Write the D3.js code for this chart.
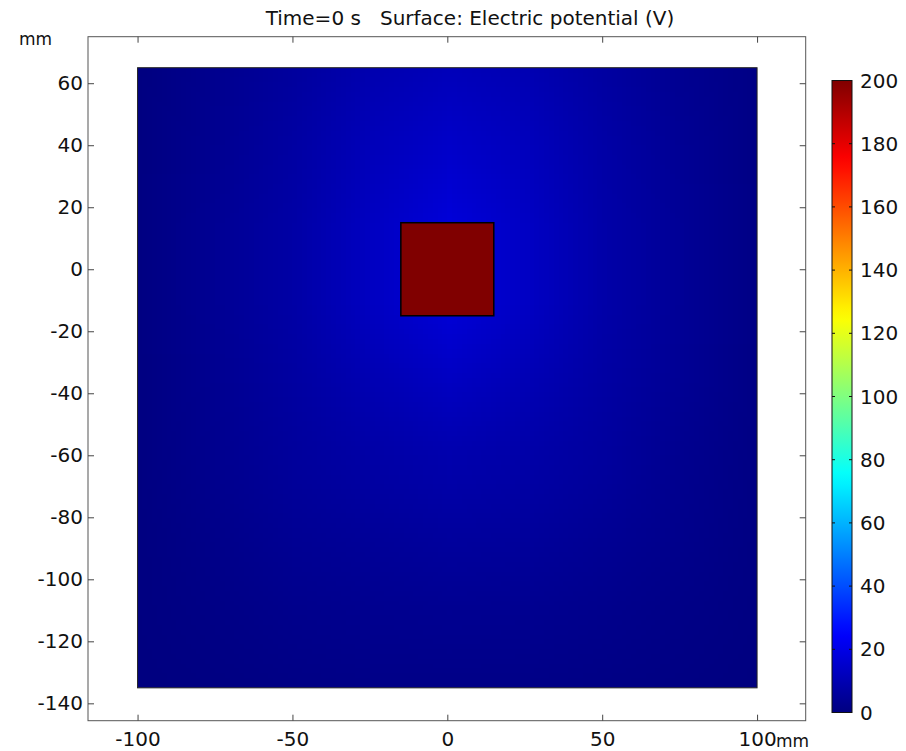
<!DOCTYPE html>
<html>
<head>
<meta charset="utf-8">
<script src="https://cdn.jsdelivr.net/npm/d3@7"></script>
<style>
  body { margin: 0; background: #fff; }
  text { font-family: "DejaVu Sans", sans-serif; fill: #111; }
</style>
</head>
<body>
<div id="chart"></div>
<script>
var xGrid = [-100, -75, -50, -25, 0, 25, 50, 75, 100];
var yGrid = [65, 40, 15, -10, -35, -60, -85, -110, -135];
var potential = [
  [0.3, 3, 6, 9.5, 11.5, 10, 6.5, 3.5, 1],
  [0.4, 3.5, 7, 11.5, 14.5, 12, 7.5, 4, 1],
  [0.5, 4, 7.5, 13, 17.5, 13.5, 8, 4.5, 1],
  [0.5, 4, 7.5, 13, 17.5, 13.5, 8, 4.5, 1],
  [0.5, 3.5, 6.5, 10, 13, 10.5, 7, 4, 1],
  [0.4, 3, 5.5, 7.5, 9, 8, 6, 3, 0.8],
  [0.3, 2, 4, 5, 6, 5.5, 4, 2.5, 0.6],
  [0.2, 1.2, 2.5, 3, 3.5, 3.2, 2.5, 1.5, 0.4],
  [0, 0.5, 1, 1.5, 1.5, 1.5, 1, 0.6, 0]
];
var domainBox = {x0: -100, x1: 100, y0: -135, y1: 65};
var electrode = {x0: -15, x1: 15, y0: -15, y1: 15, v: 200};
var xTicks = [-100, -50, 0, 50, 100];
var yTicks = [60, 40, 20, 0, -20, -40, -60, -80, -100, -120, -140];
var cbTicks = [0, 20, 40, 60, 80, 100, 120, 140, 160, 180, 200];
var vRange = [0, 200];

var W = 906, H = 751;
var svg = d3.select('#chart').append('svg')
    .attr('width', W).attr('height', H);
svg.append('rect').attr('width', W).attr('height', H).attr('fill', '#fff');

var x = d3.scaleLinear().domain([-116, 115.7]).range([88, 805.7]);
var y = d3.scaleLinear().domain([75, -145.6]).range([36.7, 720.7]);

// jet colormap
var clamp = v => Math.max(0, Math.min(1, v));
var jet = t => d3.rgb(
    255 * clamp(1.5 - Math.abs(4 * t - 3)),
    255 * clamp(1.5 - Math.abs(4 * t - 2)),
    255 * clamp(1.5 - Math.abs(4 * t - 1))) + '';
var tScale = d3.scaleLinear().domain(vRange).range([0, 1]).clamp(true);
var color = v => jet(tScale(v));

// field as a small image, smoothed by the browser
var nx = xGrid.length, ny = yGrid.length;
var cv = document.createElement('canvas');
cv.width = nx; cv.height = ny;
var ctx = cv.getContext('2d');
potential.forEach((row, j) => row.forEach((v, i) => {
    ctx.fillStyle = color(v);
    ctx.fillRect(i, j, 1, 1);
}));
var dx = (xGrid[1] - xGrid[0]) / 2, dy = (yGrid[0] - yGrid[1]) / 2;

var defs = svg.append('defs');
defs.append('clipPath').attr('id', 'dom').append('rect')
    .attr('x', x(domainBox.x0)).attr('y', y(domainBox.y1))
    .attr('width', x(domainBox.x1) - x(domainBox.x0))
    .attr('height', y(domainBox.y0) - y(domainBox.y1));

svg.append('image')
    .attr('href', cv.toDataURL())
    .attr('x', x(xGrid[0] - dx)).attr('y', y(yGrid[0] + dy))
    .attr('width', x(xGrid[nx - 1] + dx) - x(xGrid[0] - dx))
    .attr('height', y(yGrid[ny - 1] - dy) - y(yGrid[0] + dy))
    .attr('preserveAspectRatio', 'none')
    .attr('clip-path', 'url(#dom)');

svg.append('rect')
    .attr('x', x(domainBox.x0)).attr('y', y(domainBox.y1))
    .attr('width', x(domainBox.x1) - x(domainBox.x0))
    .attr('height', y(domainBox.y0) - y(domainBox.y1))
    .attr('fill', 'none').attr('stroke', '#222').attr('stroke-width', 1);

svg.append('rect')
    .attr('x', x(electrode.x0)).attr('y', y(electrode.y1))
    .attr('width', x(electrode.x1) - x(electrode.x0))
    .attr('height', y(electrode.y0) - y(electrode.y1))
    .attr('fill', color(electrode.v)).attr('stroke', '#000').attr('stroke-width', 1.5);

// frame and ticks
var fx0 = x.range()[0], fx1 = x.range()[1], fy0 = y.range()[0], fy1 = y.range()[1];
svg.append('rect')
    .attr('x', fx0).attr('y', fy0).attr('width', fx1 - fx0).attr('height', fy1 - fy0)
    .attr('fill', 'none').attr('stroke', '#555').attr('stroke-width', 1);

var tl = 6;
svg.append('g').attr('transform', `translate(0,${fy1})`)
    .call(d3.axisBottom(x).tickValues(xTicks).tickSizeInner(-tl).tickSizeOuter(0).tickPadding(11).tickFormat(d3.format('d')))
    .call(g => g.select('.domain').remove());
svg.append('g').attr('transform', `translate(0,${fy0})`)
    .call(d3.axisTop(x).tickValues(xTicks).tickSizeInner(-tl).tickSizeOuter(0).tickFormat(''))
    .call(g => g.select('.domain').remove());
svg.append('g').attr('transform', `translate(${fx0},0)`)
    .call(d3.axisLeft(y).tickValues(yTicks).tickSizeInner(-tl).tickSizeOuter(0).tickPadding(5).tickFormat(d3.format('d')))
    .call(g => g.select('.domain').remove());
svg.append('g').attr('transform', `translate(${fx1},0)`)
    .call(d3.axisRight(y).tickValues(yTicks).tickSizeInner(-tl).tickSizeOuter(0).tickFormat(''))
    .call(g => g.select('.domain').remove());

svg.selectAll('.tick line').attr('stroke', '#444');
svg.selectAll('.tick text').style('font-size', '20px').style('font-family', '"DejaVu Sans", sans-serif').attr('fill', '#111');
svg.selectAll('.tick text').text(function () { return this.textContent.replace('\u2212', '-'); });

// unit labels
svg.append('text').attr('x', 19).attr('y', 45).style('font-size', '17px').text('mm');
svg.append('text').attr('x', x(100) + 19).attr('y', 746.5).style('font-size', '17px').text('mm');

// title
svg.append('text').attr('x', 470).attr('y', 25).attr('text-anchor', 'middle')
    .style('font-size', '20px').attr('xml:space', 'preserve')
    .text('Time=0 s   Surface: Electric potential (V)');

// colour bar
var cb = d3.scaleLinear().domain(vRange).range([712.5, 80.5]);
var cbx = 832, cbw = 20;
var grad = defs.append('linearGradient').attr('id', 'jet')
    .attr('x1', 0).attr('y1', 1).attr('x2', 0).attr('y2', 0);
grad.selectAll('stop').data(d3.range(0, 1.0001, 0.02)).join('stop')
    .attr('offset', d => d).attr('stop-color', d => jet(d));
svg.append('rect').attr('x', cbx).attr('y', cb(vRange[1]))
    .attr('width', cbw).attr('height', cb(vRange[0]) - cb(vRange[1]))
    .attr('fill', 'url(#jet)').attr('stroke', '#111').attr('stroke-width', 1);
var cbt = svg.append('g');
cbt.selectAll('line.l').data(cbTicks).join('line').attr('class', 'l')
    .attr('x1', cbx).attr('x2', cbx + 3).attr('y1', d => cb(d)).attr('y2', d => cb(d))
    .attr('stroke', '#111');
cbt.selectAll('line.r').data(cbTicks).join('line').attr('class', 'r')
    .attr('x1', cbx + cbw - 3).attr('x2', cbx + cbw).attr('y1', d => cb(d)).attr('y2', d => cb(d))
    .attr('stroke', '#111');
cbt.selectAll('text').data(cbTicks).join('text')
    .attr('x', cbx + cbw + 8).attr('y', d => cb(d)).attr('dy', '0.35em')
    .style('font-size', '20px').text(d => d);
</script>
</body>
</html>
